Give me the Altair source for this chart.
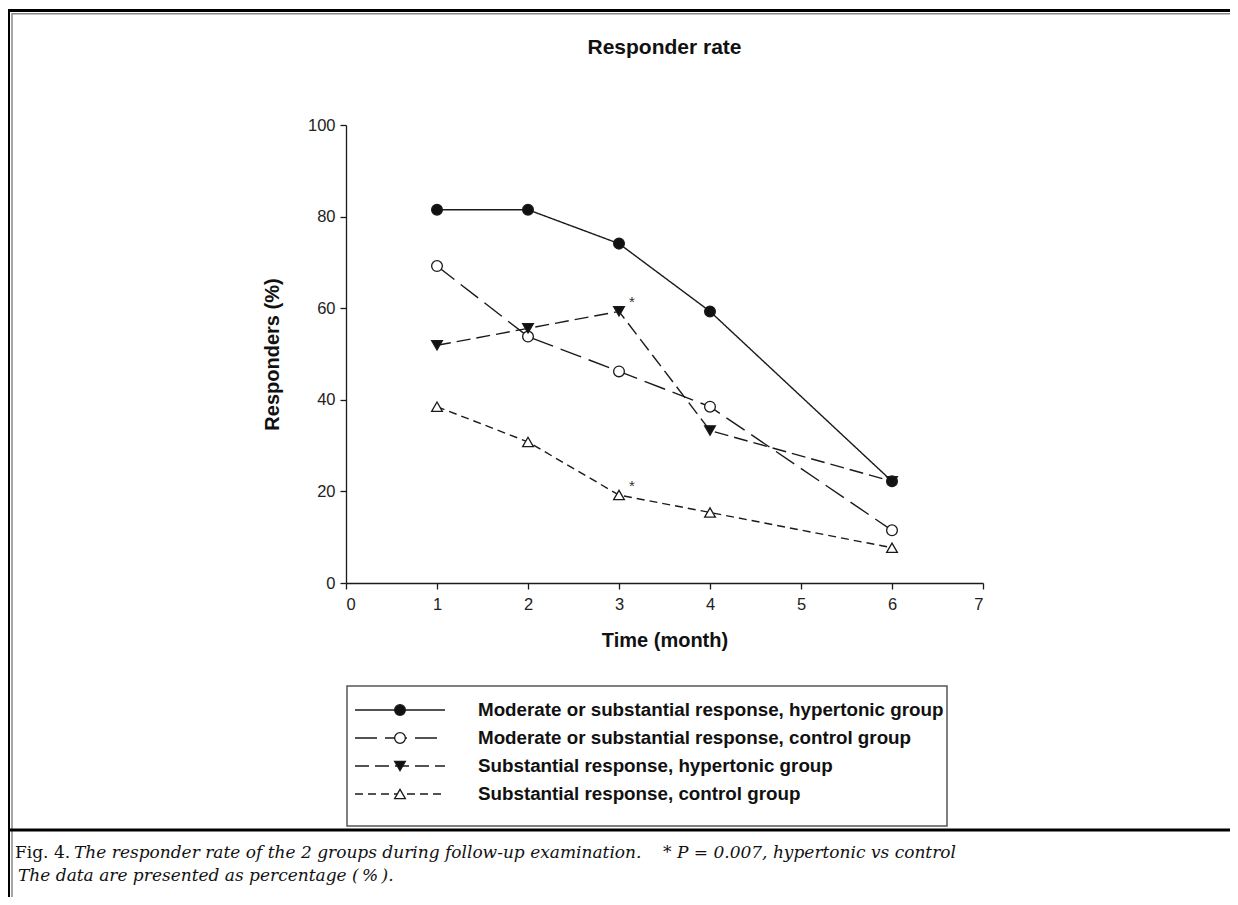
import altair as alt
import pandas as pd

# ---- data ----
months = [1, 2, 3, 4, 6]
series_names = [
    "Moderate or substantial response, hypertonic group",
    "Moderate or substantial response, control group",
    "Substantial response, hypertonic group",
    "Substantial response, control group",
]
mod_hyper = [81.5, 81.5, 74.1, 59.3, 22.2]
mod_ctrl = [69.2, 53.8, 46.2, 38.5, 11.5]
sub_hyper = [51.9, 55.6, 59.3, 33.3, 22.2]
sub_ctrl = [38.5, 30.8, 19.2, 15.4, 7.7]
series_values = [mod_hyper, mod_ctrl, sub_hyper, sub_ctrl]

star_month = [3, 3]
star_value = [59.3, 19.2]

x_ticks = [0, 1, 2, 3, 4, 5, 6, 7]
y_ticks = [0, 20, 40, 60, 80, 100]

title_text = "Responder rate"
x_title = "Time (month)"
y_title = "Responders (%)"
caption_fig = "Fig. 4."
caption_l1 = "The responder rate of the 2 groups during follow-up examination.\u00a0\u00a0\u00a0 * P = 0.007, hypertonic vs control"
caption_l2 = "The data are presented as percentage (\u2009%\u2009)."

# ---- styles ----
dashes = [[1, 0], [22, 8], [14, 6], [8, 5]]
shapes = ["circle", "circle", "triangle-down", "triangle-up"]
fills = ["#111111", "white", "#111111", "white"]
INK = "#1a1a1a"
SANS = "Liberation Sans"
SERIF = "DejaVu Serif"

W, H = 637, 458

xs = alt.Scale(domain=[0, 7], nice=False, zero=False)
ys = alt.Scale(domain=[0, 100], nice=False)

layers = []
one = alt.Data(values=[{"a": 1}])

for i, name in enumerate(series_names):
    df = pd.DataFrame({"month": months, "value": series_values[i], "series": name})
    base = alt.Chart(df)
    line = base.mark_line(color=INK, strokeWidth=1.4, strokeDash=dashes[i]).encode(
        x=alt.X("month:Q", scale=xs,
                axis=alt.Axis(values=x_ticks, title=x_title, grid=False, format="d",
                              domainColor=INK, domainWidth=1.3, tickColor=INK, tickWidth=1.3,
                              tickSize=6, labelFont=SANS, labelFontSize=16.5, labelColor="#222",
                              labelPadding=7, titleFont=SANS, titleFontSize=20,
                              titleFontWeight="bold", titleColor="#111", titlePadding=18)),
        y=alt.Y("value:Q", scale=ys,
                axis=alt.Axis(values=y_ticks, title=y_title, grid=False,
                              domainColor=INK, domainWidth=1.3, tickColor=INK, tickWidth=1.3,
                              tickSize=6, labelFont=SANS, labelFontSize=16.5, labelColor="#222",
                              labelPadding=5, titleFont=SANS, titleFontSize=20,
                              titleFontWeight="bold", titleColor="#111", titlePadding=25)),
    )
    pts = base.mark_point(shape=shapes[i], filled=True, fill=fills[i], stroke=INK,
                          strokeWidth=1.3, size=115, opacity=1).encode(
        x=alt.X("month:Q", scale=xs), y=alt.Y("value:Q", scale=ys))
    layers += [line, pts]

stars = alt.Chart(pd.DataFrame({"month": star_month, "value": star_value})).mark_text(
    text="*", font=SANS, fontSize=15, color="#333", dx=13, dy=-9).encode(
    x=alt.X("month:Q", scale=xs), y=alt.Y("value:Q", scale=ys))
layers.append(stars)

# title
layers.append(alt.Chart(one).mark_text(text=title_text, font=SANS, fontSize=21,
                                       fontWeight="bold", color="#111", baseline="middle").encode(
    x=alt.value(W / 2), y=alt.value(-77)))

# legend box
layers.append(alt.Chart(one).mark_rect(fillOpacity=0, stroke="#555", strokeWidth=1.5).encode(
    x=alt.value(1), x2=alt.value(601), y=alt.value(561), y2=alt.value(701)))
row_y = [585, 613, 641, 669]
for i, name in enumerate(series_names):
    ry = row_y[i]
    layers.append(alt.Chart(one).mark_rule(color=INK, strokeWidth=1.4, strokeDash=dashes[i]).encode(
        x=alt.value(9), x2=alt.value(99), y=alt.value(ry)))
    layers.append(alt.Chart(one).mark_point(shape=shapes[i], filled=True, fill=fills[i], stroke=INK,
                                            strokeWidth=1.3, size=115, opacity=1).encode(
        x=alt.value(54), y=alt.value(ry)))
    layers.append(alt.Chart(one).mark_text(text=name, font=SANS, fontSize=18.8, fontWeight="bold",
                                           color="#111", align="left", baseline="middle").encode(
        x=alt.value(132), y=alt.value(ry)))

# frame lines
def rule(x1, x2, y1, y2, color, w):
    return alt.Chart(one).mark_rule(color=color, strokeWidth=w).encode(
        x=alt.value(x1), x2=alt.value(x2), y=alt.value(y1), y2=alt.value(y2))

layers.append(rule(-338, 892, -114.5, -114.5, "#000", 3))
layers.append(rule(-334, 892, -111.2, -111.2, "#888", 1.5))
layers.append(rule(-337.5, -337.5, -116, 781, "#000", 3))
layers.append(rule(-334, -334, -112, 781, "#888", 1.5))
layers.append(rule(-338, 892, 705, 705, "#000", 3))

# caption
layers.append(alt.Chart(one).mark_text(text=caption_fig, font=SERIF, fontSize=17, color="#111",
                                       align="left", baseline="middle").encode(
    x=alt.value(-331), y=alt.value(728)))
layers.append(alt.Chart(one).mark_text(text=caption_l1, font=SERIF, fontSize=17, fontStyle="italic",
                                       color="#111", align="left", baseline="middle").encode(
    x=alt.value(-272), y=alt.value(728)))
layers.append(alt.Chart(one).mark_text(text=caption_l2, font=SERIF, fontSize=17, fontStyle="italic",
                                       color="#111", align="left", baseline="middle").encode(
    x=alt.value(-328), y=alt.value(751)))

chart = alt.layer(*layers).properties(
    width=W, height=H,
    autosize=alt.AutoSizeParams(type="none"),
    padding={"left": 338, "top": 117, "right": 247, "bottom": 314},
).configure(background="white", view=alt.ViewConfig(stroke=None))

chart.save("out.html", embed_options={"renderer": "svg", "actions": False})
